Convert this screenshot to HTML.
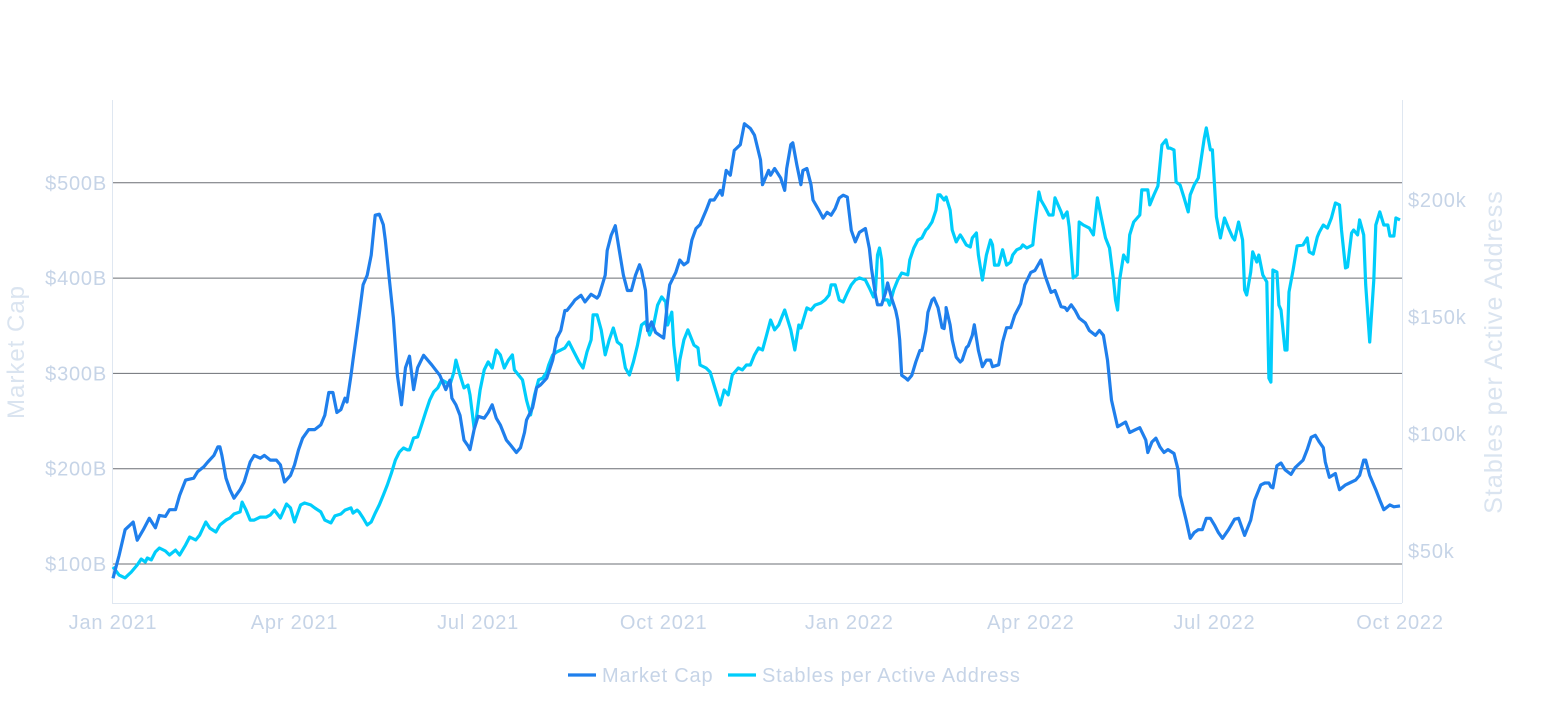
<!DOCTYPE html>
<html><head><meta charset="utf-8"><style>
body{margin:0;background:#fff;font-family:"Liberation Sans",sans-serif;}
svg{display:block}
</style></head><body>
<svg id="chart" width="1565" height="705"></svg>
<script>
const mcDays=[0,3,6,10,12,15,18,21,23,26,28,31,33,36,40,42,45,47,50,52,53,54,56,58,60,63,65,68,70,73,75,78,81,83,85,88,90,92,94,97,100,103,105,107,109,111,113,115,116,118,119,120,122,124,126,128,130,132,134,135,137,139,141,143,145,147,149,151,154,158,162,165,167,168,170,172,174,176,177,179,181,184,186,188,190,192,195,197,200,202,204,205,208,209,210,212,215,218,220,222,224,225,228,229,232,234,237,240,241,244,245,247,249,251,253,255,257,259,261,262,264,265,267,269,271,273,275,276,279,281,283,285,287,289,291,294,296,298,301,302,304,306,308,311,313,316,318,321,322,323,325,326,328,331,333,334,336,337,339,341,342,344,346,347,350,352,354,356,358,360,362,364,366,368,370,373,375,376,378,379,381,383,384,386,388,389,390,391,393,394,396,398,400,401,403,404,406,407,409,411,412,413,413,415,416,418,420,421,423,424,426,427,429,431,433,435,436,439,441,443,445,447,450,452,455,457,460,462,465,467,470,472,473,475,477,479,482,484,487,489,491,493,495,498,502,504,507,509,512,513,515,517,519,521,523,526,528,529,532,534,536,538,540,542,544,546,548,550,553,556,558,560,561,564,566,569,571,573,574,575,577,579,581,584,586,589,590,592,594,596,598,600,601,603,606,607,608,611,613,616,618,620,621,623,626,628,630,633,635,638];
const mcVals=[85,109,136,144,125,136,148,138,151,150,157,157,172,188,190,197,202,207,214,223,223,214,190,178,169,178,186,207,214,211,214,209,209,204,186,193,204,220,232,241,241,246,256,280,280,259,262,274,270,298,314,330,361,393,403,424,466,467,456,440,398,358,298,267,306,318,283,306,319,309,298,283,293,274,267,256,230,224,220,241,255,253,259,267,253,246,230,225,217,222,238,251,264,274,285,288,295,314,337,345,366,366,374,377,382,375,383,379,382,403,429,445,455,429,403,387,387,403,414,408,387,345,354,343,340,337,377,393,406,419,414,417,440,452,456,471,482,482,492,487,513,508,534,540,562,557,550,524,498,503,513,508,515,505,492,515,540,542,519,498,513,515,498,482,471,463,469,466,473,484,487,485,450,438,448,452,431,410,382,372,372,385,395,379,366,356,335,298,295,293,298,312,324,324,345,364,377,379,369,348,347,364,369,351,335,317,312,314,327,329,340,351,324,307,314,314,307,309,333,348,348,361,373,393,406,408,419,403,385,387,370,369,366,372,366,358,353,345,340,345,340,314,272,244,249,238,241,243,230,217,228,232,223,217,220,216,199,172,146,127,133,136,136,148,148,141,133,127,136,147,148,136,130,146,167,183,185,185,181,180,203,206,199,194,201,207,209,220,233,235,228,222,207,191,195,186,178,183,185,188,193,209,209,193,178,167,157,162,160,161];
const stDays=[0,3,6,9,12,14,16,17,19,21,23,26,28,31,33,36,38,41,43,46,48,51,53,56,58,60,63,64,66,68,70,73,76,78,80,83,86,88,90,93,95,98,100,103,105,108,110,113,115,118,119,121,122,124,126,128,130,132,134,136,138,140,142,144,146,147,149,151,153,155,157,159,161,163,165,167,169,170,172,174,176,177,179,180,182,184,186,188,190,192,194,196,198,199,201,203,205,207,209,211,213,215,216,218,220,222,224,226,228,231,233,235,237,238,240,242,244,246,248,250,252,254,256,258,260,262,264,266,268,270,272,274,275,277,278,280,281,283,285,288,290,291,294,296,298,301,303,305,307,310,312,314,316,318,320,322,324,326,328,330,332,333,336,338,340,341,344,346,348,351,353,355,356,358,360,362,364,366,368,370,373,375,377,378,379,380,381,382,384,385,387,389,391,394,395,397,399,401,403,404,406,408,409,410,412,413,415,416,418,420,421,423,425,426,428,429,431,433,435,436,437,439,441,443,445,446,448,450,451,453,456,457,459,460,462,464,466,467,470,471,473,474,476,478,479,481,482,484,486,488,490,492,494,496,497,498,499,501,503,504,506,509,510,513,514,516,518,520,522,523,524,526,527,529,531,533,534,536,538,539,541,542,544,545,547,549,551,553,555,556,558,560,561,562,564,565,567,568,570,572,573,574,575,577,578,579,581,582,583,585,587,590,592,593,595,597,598,600,602,604,606,608,609,611,612,614,615,617,618,620,621,623,625,626,628,630,632,633,635,636,638];
const stVals=[43.2,39.7,38.5,41.0,44.0,46.6,45.3,47.0,46.2,49.6,51.3,50.0,48.3,50.4,48.3,52.6,56.0,54.7,56.8,62.4,59.8,58.1,61.1,63.2,64.1,65.8,66.7,70.9,67.5,63.2,63.2,64.5,64.5,65.4,67.5,64.1,70.1,68.4,62.4,69.7,70.5,69.7,68.4,66.7,63.2,62.0,65.0,65.8,67.5,68.4,66.2,67.5,66.7,64.1,61.1,62.4,66.2,69.7,73.9,78.2,83.3,88.9,92.3,94.0,93.2,93.2,98.3,98.7,103.9,109.4,114.5,118.0,119.7,123.1,122.2,120.9,126.5,131.6,125.2,119.7,120.9,116.7,102.6,106.0,118.8,127.4,130.8,128.2,135.9,133.8,128.2,131.6,133.8,127.4,125.2,123.1,114.5,108.1,116.7,123.1,123.9,126.5,129.5,133.8,135.1,135.9,136.8,139.3,135.9,130.8,128.2,135.1,140.2,150.9,150.9,144.5,133.8,140.2,145.3,139.3,138.0,128.2,125.2,130.8,138.0,146.6,147.9,142.3,146.6,155.1,158.6,156.4,146.6,152.1,138.0,123.1,131.6,140.2,144.5,138.0,136.8,129.5,128.2,126.5,120.9,112.4,118.8,116.7,125.2,128.2,127.4,129.5,129.5,133.8,136.8,135.9,142.3,148.7,144.5,146.6,150.9,153.0,144.5,135.9,146.6,145.3,153.9,153.0,155.1,156.0,157.3,159.4,163.7,163.7,157.3,156.4,160.3,163.7,165.8,166.7,165.8,162.4,158.6,161.6,176.5,179.5,174.4,157.3,157.3,155.1,161.6,165.8,168.8,168.0,174.4,179.5,182.9,183.8,187.2,188.0,190.6,195.7,202.2,202.2,200.0,201.3,195.7,187.2,182.1,185.1,183.8,180.8,179.9,183.8,185.9,176.5,165.8,176.5,182.9,180.8,172.2,172.2,178.7,172.2,173.5,176.5,178.7,179.5,180.8,179.5,180.8,189.3,203.4,200.0,197.0,193.6,193.6,200.9,194.9,192.3,194.9,188.5,166.7,168.0,190.6,189.3,188.9,188.0,185.1,200.9,192.3,183.8,179.5,165.8,157.3,153.0,165.8,176.5,173.5,185.1,190.6,193.6,204.3,204.3,197.9,202.2,206.0,223.5,225.7,222.2,222.2,221.4,207.7,206.4,200.9,194.9,202.2,206.4,209.4,215.0,226.5,230.8,221.4,221.4,192.8,183.8,192.3,188.0,184.2,182.9,190.6,182.9,161.6,159.4,169.2,177.8,173.5,176.5,168.0,165.0,123.9,122.2,170.1,169.2,155.1,153.0,135.9,135.9,160.7,170.1,180.4,180.8,183.8,177.8,176.9,184.2,186.3,189.3,188.0,192.3,198.7,197.9,187.2,171.0,171.4,185.9,187.2,185.1,191.5,185.1,163.7,139.3,165.8,189.3,194.9,189.3,189.3,184.6,184.6,192.3,191.5];
const leftTicks=[100,200,300,400,500];
const leftLabels=["$100B","$200B","$300B","$400B","$500B"];
const rightTicks=[50,100,150,200];
const rightLabels=["$50k","$100k","$150k","$200k"];
const xTickDays=[0,90,181,273,365,455,546,638];
const xTickLabels=["Jan 2021","Apr 2021","Jul 2021","Oct 2021","Jan 2022","Apr 2022","Jul 2022","Oct 2022"];

const NS="http://www.w3.org/2000/svg";
const svg=document.getElementById('chart');
const X=d=>113+d*2.0172;
const YL=v=>564-(v-100)*0.953;
const YR=v=>551-(v-50)*2.34;
function mk(tag,attrs,parent){const e=document.createElementNS(NS,tag);for(const k in attrs)e.setAttribute(k,attrs[k]);(parent||svg).appendChild(e);return e;}
const lab="#c6d4e7";

leftTicks.forEach((v,i)=>{
  const g=mk('line',{x1:112,x2:1402,y1:YL(v),y2:YL(v),stroke:'#6b6f75','stroke-width':1});
  
  
  const t=mk('text',{x:107,y:YL(v)+7,'text-anchor':'end','font-size':20,'letter-spacing':'0.8',fill:lab});
  t.textContent=leftLabels[i];
  
  
});
rightTicks.forEach((v,i)=>{
  const t=mk('text',{x:1408,y:YR(v)+7,'font-size':20,'letter-spacing':'0.8',fill:lab});
  t.textContent=rightLabels[i];
  
  
});
xTickDays.forEach((d,i)=>{
  const t=mk('text',{x:X(d),y:629,'text-anchor':'middle','font-size':20,'letter-spacing':'0.8',fill:lab});
  t.textContent=xTickLabels[i];
  
  
});
const al=mk('line',{x1:112.5,x2:112.5,y1:100,y2:603,stroke:'#dfe7f1','stroke-width':1});


const ar=mk('line',{x1:1402.5,x2:1402.5,y1:100,y2:603,stroke:'#dfe7f1','stroke-width':1});


const ab=mk('line',{x1:112,x2:1402,y1:603.5,y2:603.5,stroke:'#dfe7f1','stroke-width':1});



const yt=mk('text',{x:0,y:0,'font-size':24,'letter-spacing':'1','fill':'#dae4f0','text-anchor':'middle',transform:'translate(24,352) rotate(-90)'});
yt.textContent='Market Cap';


const yt2=mk('text',{x:0,y:0,'font-size':25,'letter-spacing':'1','fill':'#dae4f0','text-anchor':'middle',transform:'translate(1502,352) rotate(-90)'});
yt2.textContent='Stables per Active Address';



function path(days,vals,Y){return days.map((d,i)=>(i?'L':'M')+X(d).toFixed(1)+','+Y(vals[i]).toFixed(1)).join('');}
const pMc=mk('path',{d:path(mcDays,mcVals,YL),fill:'none',stroke:'#1f7fec','stroke-width':3.2,'stroke-linejoin':'round'});


const pSt=mk('path',{d:path(stDays,stVals,YR),fill:'none',stroke:'#00cdfb','stroke-width':3.2,'stroke-linejoin':'round'});


svg.appendChild(pMc);

const lg=mk('g',{});


const l1=mk('line',{x1:568,x2:596,y1:675,y2:675,stroke:'#1f7fec','stroke-width':3.2},lg);


const t1=mk('text',{x:602,y:682,'font-size':20,'letter-spacing':'0.8',fill:lab},lg);
t1.textContent='Market Cap';


const l2=mk('line',{x1:728,x2:756,y1:675,y2:675,stroke:'#00cdfb','stroke-width':3.2},lg);


const t2=mk('text',{x:762,y:682,'font-size':20,'letter-spacing':'0.8',fill:lab},lg);
t2.textContent='Stables per Active Address';


</script>
</body></html>
